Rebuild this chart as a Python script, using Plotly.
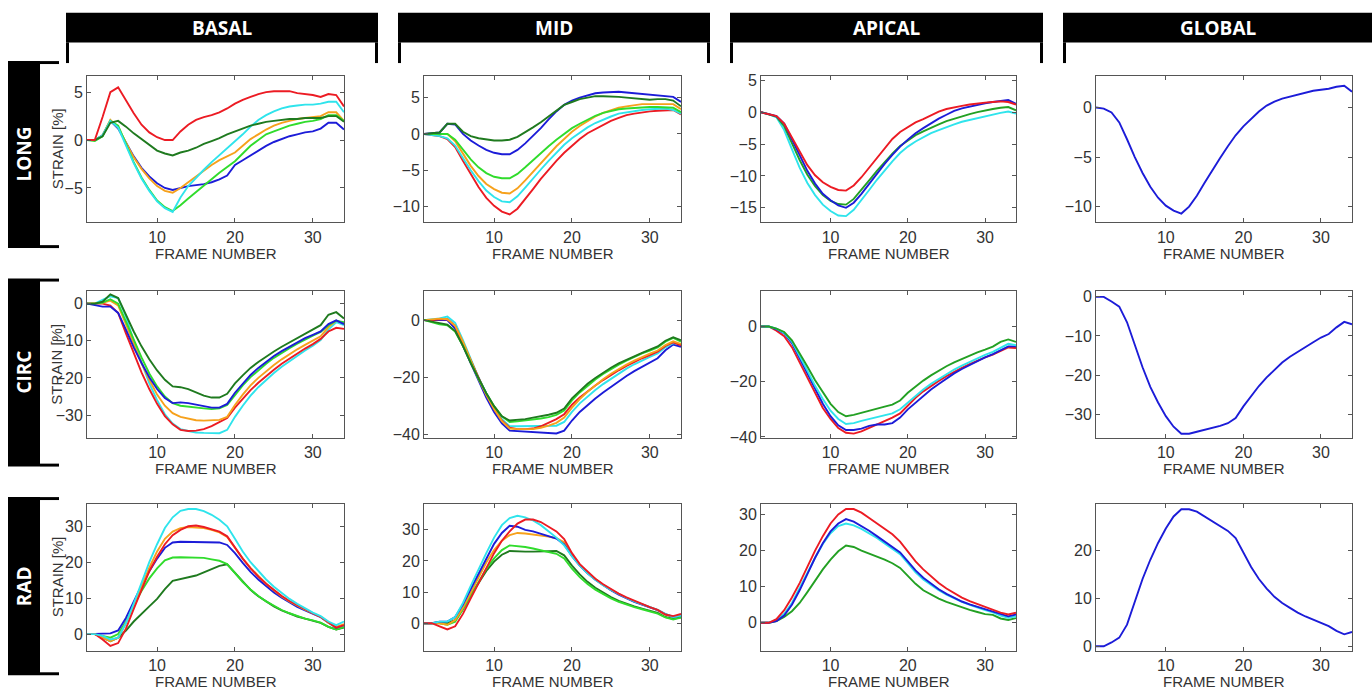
import plotly.graph_objects as go

W, H = 1372, 697
FRAMES = list(range(1, 35))

COLS = ["BASAL", "MID", "APICAL", "GLOBAL"]
ROWS = ["LONG", "CIRC", "RAD"]

# ---------------- LONG ----------------
LONG_BASAL_BLUE = [0,0,0.5,2.0,1.2,-0.3,-1.7,-2.9,-3.8,-4.5,-5.0,-5.2,-5.0,-4.8,-4.7,-4.6,-4.4,-4.1,-3.7,-2.6,-2.1,-1.6,-1.1,-0.6,-0.2,0.1,0.4,0.6,0.8,0.9,1.2,1.8,1.8,1.1]
LONG_BASAL_ORANGE = [0,0,0.5,2.1,1.3,-0.3,-1.8,-3.0,-4.0,-4.8,-5.3,-5.5,-5.0,-4.4,-3.8,-3.2,-2.6,-2.1,-1.7,-1.3,-0.6,0.1,0.6,1.1,1.5,1.8,2.0,2.2,2.3,2.4,2.5,2.9,2.9,2.0]
LONG_BASAL_GREEN = [0,-0.1,0.4,2.0,1.5,-0.5,-2.3,-3.9,-5.2,-6.3,-7.0,-7.4,-6.8,-6.1,-5.4,-4.7,-4.0,-3.4,-2.8,-2.2,-1.4,-0.6,0.0,0.6,0.9,1.2,1.5,1.7,1.9,2.0,2.2,2.6,2.6,2.0]
LONG_BASAL_CYAN = [0,0,0.5,2.0,1.3,-0.6,-2.4,-4.0,-5.3,-6.4,-7.1,-7.5,-6.0,-4.8,-3.9,-3.1,-2.3,-1.6,-0.9,-0.2,0.6,1.4,2.1,2.6,3.0,3.3,3.5,3.6,3.7,3.7,3.8,4.0,4.0,2.9]
LONG_BASAL_DKGREEN = [0,0,0.4,1.8,2.0,1.4,0.7,0.1,-0.5,-1.1,-1.4,-1.6,-1.3,-1.1,-0.8,-0.4,-0.1,0.2,0.6,0.9,1.2,1.5,1.7,1.9,2.0,2.1,2.2,2.2,2.3,2.3,2.3,2.5,2.5,1.9]
LONG_BASAL_RED = [0,0,2.4,5.0,5.5,4.1,2.8,1.6,0.8,0.3,0.0,0.0,0.9,1.6,2.1,2.4,2.6,2.9,3.3,3.8,4.2,4.5,4.8,5.0,5.1,5.1,5.1,4.9,4.8,4.7,4.5,4.8,4.7,3.5]

LONG_MID_RED = [0,-0.2,-0.3,-0.7,-1.8,-3.7,-5.6,-7.3,-8.8,-9.9,-10.7,-11.1,-10.3,-9.0,-7.6,-6.2,-4.9,-3.7,-2.6,-1.6,-0.7,0.1,0.7,1.3,1.8,2.2,2.6,2.8,3.0,3.1,3.2,3.3,3.3,2.7]
LONG_MID_CYAN = [0,-0.1,-0.3,-0.6,-1.6,-3.3,-5.0,-6.5,-7.8,-8.7,-9.3,-9.4,-8.6,-7.4,-6.1,-4.9,-3.7,-2.6,-1.5,-0.6,0.2,0.9,1.5,2.0,2.4,2.8,3.0,3.2,3.3,3.4,3.5,3.5,3.3,2.8]
LONG_MID_ORANGE = [0,0,0,0,-1.0,-2.8,-4.4,-5.8,-6.9,-7.6,-8.1,-8.2,-7.5,-6.4,-5.2,-4.0,-2.8,-1.7,-0.7,0.3,1.1,1.8,2.4,2.9,3.3,3.6,3.8,4.0,4.1,4.1,4.1,4.2,4.1,3.4]
LONG_MID_GREEN = [0,0,0,0,-0.8,-2.2,-3.5,-4.6,-5.4,-5.9,-6.1,-6.1,-5.5,-4.6,-3.6,-2.6,-1.7,-0.8,0.0,0.8,1.4,2.0,2.5,2.9,3.2,3.4,3.5,3.6,3.7,3.7,3.7,3.7,3.6,3.0]
LONG_MID_BLUE = [0,0.1,0.2,1.4,1.3,0.0,-0.9,-1.6,-2.2,-2.6,-2.8,-2.8,-2.2,-1.3,-0.3,0.8,2.0,3.1,4.0,4.6,5.0,5.3,5.6,5.7,5.8,5.8,5.7,5.6,5.5,5.4,5.3,5.3,5.1,4.4]
LONG_MID_DKGREEN = [0,0.1,0.2,1.4,1.4,0.3,-0.3,-0.6,-0.8,-0.9,-0.9,-0.8,-0.4,0.2,0.9,1.6,2.4,3.2,4.0,4.4,4.8,5.0,5.2,5.2,5.2,5.1,5.0,4.9,4.8,4.7,4.8,4.8,4.6,3.8]

LONG_APICAL_CYAN = [0,-0.3,-0.8,-2.8,-5.8,-8.7,-11.1,-13.0,-14.5,-15.5,-16.2,-16.3,-15.3,-13.8,-12.2,-10.6,-9.1,-7.7,-6.4,-5.4,-4.6,-3.9,-3.3,-2.8,-2.3,-1.9,-1.5,-1.2,-0.9,-0.6,-0.4,-0.1,0.1,-0.2]
LONG_APICAL_GREEN = [0,-0.3,-0.7,-2.2,-4.8,-7.5,-9.8,-11.6,-13.0,-13.9,-14.4,-14.5,-13.6,-12.2,-10.7,-9.2,-7.8,-6.5,-5.3,-4.4,-3.6,-3.0,-2.4,-1.9,-1.4,-1.0,-0.6,-0.3,0.0,0.3,0.5,0.7,0.8,0.3]
LONG_APICAL_BLUE = [0,-0.3,-0.6,-1.8,-4.2,-6.8,-9.2,-11.2,-12.8,-13.8,-14.6,-15.0,-14.2,-12.8,-11.2,-9.6,-8.1,-6.7,-5.4,-4.3,-3.3,-2.5,-1.7,-1.0,-0.4,0.2,0.6,0.9,1.2,1.4,1.6,1.8,1.9,1.3]
LONG_APICAL_RED = [0,-0.3,-0.6,-1.8,-4.0,-6.3,-8.3,-9.9,-11.0,-11.7,-12.2,-12.3,-11.5,-10.2,-8.7,-7.1,-5.6,-4.2,-3.1,-2.3,-1.6,-1.1,-0.5,0.1,0.5,0.8,1.0,1.2,1.4,1.5,1.6,1.7,1.6,1.2]

LONG_GLOBAL = [0,-0.1,-0.5,-1.5,-3.2,-5.0,-6.6,-8.0,-9.1,-9.9,-10.4,-10.7,-10.0,-8.9,-7.6,-6.3,-5.1,-3.9,-2.8,-1.9,-1.1,-0.4,0.2,0.6,0.9,1.1,1.3,1.5,1.7,1.8,1.9,2.1,2.2,1.6]

# ---------------- CIRC ----------------
CIRC_BASAL_CYAN = [0,0,1.0,2.0,1.5,-3.5,-10.0,-16.0,-21.5,-26.0,-29.8,-32.3,-33.8,-34.3,-34.7,-34.8,-34.9,-34.9,-34.0,-30.5,-27.5,-24.8,-22.5,-20.5,-18.7,-17.0,-15.5,-14.0,-12.6,-11.3,-9.8,-7.0,-5.0,-5.8]
CIRC_BASAL_RED = [0,0,0,-0.5,-2.5,-8.0,-13.5,-18.5,-23.0,-27.0,-30.3,-32.5,-34.0,-34.3,-34.2,-33.8,-33.0,-32.0,-30.8,-28.0,-25.5,-23.3,-21.3,-19.5,-17.8,-16.2,-14.8,-13.4,-12.1,-10.9,-9.5,-7.5,-6.5,-6.8]
CIRC_BASAL_ORANGE = [0,0,0.2,0.8,-0.5,-5.5,-11.0,-16.0,-20.5,-24.5,-27.5,-29.5,-30.5,-31.0,-31.4,-31.5,-31.5,-31.3,-30.5,-27.3,-24.5,-22.0,-20.0,-18.2,-16.5,-15.0,-13.6,-12.3,-11.1,-10.0,-8.8,-6.3,-4.6,-5.3]
CIRC_BASAL_GREEN = [0,0,0.3,1.2,0.0,-5.0,-10.0,-14.5,-18.8,-22.3,-25.0,-26.8,-27.5,-27.8,-28.0,-28.2,-28.4,-28.2,-27.3,-24.5,-22.0,-19.8,-17.9,-16.2,-14.6,-13.2,-12.0,-10.8,-9.6,-8.6,-7.6,-5.8,-4.6,-5.0]
CIRC_BASAL_BLUE = [0,-0.3,-0.8,-0.8,-2.5,-7.0,-11.8,-16.0,-19.8,-23.0,-25.4,-26.8,-26.6,-26.8,-27.2,-27.6,-28.0,-28.0,-27.0,-24.0,-21.5,-19.2,-17.3,-15.6,-14.1,-12.8,-11.6,-10.4,-9.3,-8.4,-7.5,-5.5,-4.5,-5.5]
CIRC_BASAL_DKGREEN = [0,0,0.5,2.5,1.5,-3.0,-7.5,-11.5,-15.0,-18.0,-20.5,-22.3,-22.5,-23.0,-24.0,-24.8,-25.3,-25.3,-24.3,-21.5,-19.3,-17.3,-15.7,-14.2,-12.9,-11.6,-10.4,-9.2,-8.0,-7.0,-5.8,-3.0,-2.3,-4.0]

CIRC_MID_BLUE = [0,0,0,0,-3.0,-9.0,-15.5,-21.5,-27.0,-32.0,-36.0,-38.5,-38.7,-38.8,-39.0,-39.2,-39.5,-39.5,-38.5,-35.0,-32.0,-29.5,-27.3,-25.2,-23.2,-21.3,-19.5,-17.8,-16.2,-14.8,-13.3,-10.5,-8.5,-9.3]
CIRC_MID_RED = [0,0,0.3,0.3,-2.0,-8.0,-14.5,-20.5,-26.0,-31.0,-35.0,-37.5,-38.0,-38.0,-37.8,-37.0,-35.8,-34.5,-32.8,-29.5,-27.0,-24.8,-22.8,-20.9,-19.1,-17.5,-16.0,-14.6,-13.3,-12.2,-11.0,-9.0,-7.8,-8.8]
CIRC_MID_ORANGE = [0,0.3,0.5,0.3,-2.0,-7.5,-14.0,-20.5,-26.0,-31.0,-35.2,-37.8,-38.0,-38.0,-38.0,-37.5,-36.8,-35.8,-34.0,-30.5,-27.5,-25.0,-22.7,-20.6,-18.7,-17.0,-15.5,-14.1,-12.8,-11.7,-10.6,-8.7,-7.4,-8.3]
CIRC_MID_CYAN = [0,0.3,0.6,1.2,-1.0,-7.0,-13.5,-20.0,-25.5,-30.5,-34.5,-37.0,-37.0,-37.0,-37.0,-37.0,-37.0,-36.8,-35.5,-32.0,-29.0,-26.6,-24.4,-22.3,-20.4,-18.6,-16.9,-15.4,-14.0,-12.8,-11.6,-9.5,-8.0,-8.5]
CIRC_MID_GREEN = [0,-0.8,-1.5,-1.8,-4.0,-9.0,-15.0,-20.5,-25.5,-30.0,-33.5,-35.5,-35.3,-35.0,-34.7,-34.3,-33.8,-33.0,-31.5,-28.0,-25.2,-22.8,-20.7,-18.8,-17.0,-15.5,-14.1,-12.8,-11.6,-10.6,-9.5,-7.5,-6.2,-7.5]
CIRC_MID_DKGREEN = [0,-0.5,-1.2,-1.6,-3.8,-9.0,-15.0,-20.5,-25.5,-30.0,-33.5,-35.0,-34.8,-34.5,-34.0,-33.6,-33.0,-32.3,-30.8,-27.3,-24.6,-22.2,-20.2,-18.3,-16.6,-15.1,-13.8,-12.5,-11.4,-10.3,-9.2,-7.2,-6.0,-7.0]

CIRC_APICAL_RED = [0,0,-1.5,-3.5,-7.5,-13.0,-19.0,-24.5,-29.5,-33.5,-36.8,-38.5,-38.8,-38.0,-36.8,-35.5,-34.2,-33.0,-31.5,-28.5,-25.8,-23.5,-21.5,-19.7,-18.0,-16.4,-15.0,-13.6,-12.3,-11.2,-10.2,-8.8,-7.6,-7.8]
CIRC_APICAL_BLUE = [0,0,-1.0,-2.5,-6.0,-11.5,-17.5,-23.0,-28.0,-32.5,-35.8,-37.5,-37.5,-37.0,-36.0,-35.5,-35.5,-35.0,-33.0,-30.0,-27.5,-25.0,-22.8,-20.8,-18.8,-17.0,-15.4,-13.9,-12.5,-11.2,-10.0,-8.5,-7.2,-7.2]
CIRC_APICAL_CYAN = [0,0,-0.8,-2.3,-5.5,-10.5,-16.0,-21.5,-26.3,-30.5,-33.5,-35.3,-35.0,-34.2,-33.5,-33.0,-32.3,-31.5,-30.0,-27.5,-25.0,-22.8,-20.8,-19.0,-17.2,-15.6,-14.2,-12.8,-11.5,-10.3,-9.2,-7.6,-6.3,-6.8]
CIRC_APICAL_GREEN = [0,0,-0.8,-2.0,-5.0,-9.5,-14.5,-19.5,-24.0,-28.0,-31.0,-32.5,-32.0,-31.2,-30.5,-29.8,-29.0,-28.3,-26.8,-24.0,-21.7,-19.6,-17.7,-16.0,-14.4,-13.0,-11.7,-10.5,-9.4,-8.4,-7.3,-5.6,-4.7,-5.6]

CIRC_GLOBAL = [0,0,-1.2,-2.5,-6.5,-12.5,-18.0,-23.0,-27.0,-30.5,-33.2,-35.0,-35.0,-34.5,-34.0,-33.5,-33.0,-32.3,-31.0,-28.0,-25.3,-22.8,-20.6,-18.6,-16.8,-15.3,-14.0,-12.8,-11.6,-10.4,-9.5,-7.8,-6.4,-7.0]

# ---------------- RAD ----------------
RAD_BASAL_DKGREEN = [0,0,-1.0,-2.0,-1.0,1.0,3.5,5.5,7.7,9.8,12.5,14.8,15.3,15.6,16.3,17.2,18.2,19.0,19.4,17.0,14.5,12.3,10.5,9.0,7.7,6.6,5.7,4.9,4.3,3.7,3.1,2.0,1.3,1.8]
RAD_BASAL_GREEN = [0,0,-0.5,-1.0,0.0,3.5,8.0,12.0,15.5,18.3,20.5,21.3,21.4,21.4,21.4,21.2,20.8,20.4,19.5,17.0,14.5,12.4,10.6,9.1,7.8,6.7,5.8,5.0,4.3,3.8,3.2,2.0,1.3,2.0]
RAD_BASAL_BLUE = [0,0,0,0.2,1.0,4.5,9.0,13.5,17.5,21.0,24.0,25.5,25.7,25.7,25.7,25.7,25.7,25.5,24.8,22.5,19.8,17.3,15.2,13.3,11.6,10.1,8.8,7.6,6.6,5.6,4.7,3.2,1.8,2.5]
RAD_BASAL_ORANGE = [0,0,-1.0,-2.0,-1.0,3.0,8.0,13.5,18.5,23.0,26.5,28.5,29.5,29.8,29.7,29.5,29.0,28.3,27.0,24.0,21.0,18.4,16.1,14.0,12.2,10.5,9.1,7.9,6.8,5.8,4.8,3.2,2.0,2.8]
RAD_BASAL_RED = [0,0,-1.5,-3.3,-2.5,1.5,7.0,12.5,17.5,21.5,25.0,27.5,29.0,30.0,30.2,29.8,29.2,28.5,27.2,24.0,21.0,18.3,16.0,14.0,12.2,10.6,9.2,8.0,6.9,5.8,4.8,3.2,1.8,2.5]
RAD_BASAL_CYAN = [0,0,-0.5,-1.5,-1.0,3.0,8.5,14.5,20.0,25.0,29.5,32.5,34.3,34.8,34.8,34.2,33.2,31.8,30.0,26.5,23.0,20.0,17.5,15.2,13.2,11.4,9.8,8.4,7.1,6.0,5.0,3.5,2.5,3.5]

RAD_MID_DKGREEN = [0,0,0.3,0,1.0,4.5,9.0,13.0,16.8,19.8,22.0,23.2,23.0,23.0,23.0,23.0,23.2,23.2,21.8,18.5,15.7,13.3,11.4,9.8,8.4,7.2,6.2,5.4,4.7,4.0,3.3,2.0,1.4,1.9]
RAD_MID_GREEN = [0,0,0,-0.5,0.5,4.5,9.0,13.5,17.5,20.8,23.5,25.0,24.8,24.5,24.0,23.5,23.0,22.3,20.8,17.5,14.8,12.6,10.8,9.3,8.0,6.9,6.0,5.2,4.5,3.8,3.1,1.9,1.2,1.8]
RAD_MID_ORANGE = [0,0,0,-0.5,1.0,5.0,10.0,15.0,19.5,23.5,26.5,28.3,29.0,28.8,28.5,28.2,27.8,27.3,26.0,22.0,18.8,16.2,14.1,12.3,10.7,9.3,8.1,7.0,6.0,5.1,4.2,2.8,2.0,2.6]
RAD_MID_BLUE = [0,0,0.5,0.5,2.0,6.0,11.0,16.0,21.0,25.5,29.0,31.3,31.0,30.0,29.5,28.8,28.0,27.2,25.3,21.5,18.5,16.0,14.0,12.2,10.6,9.2,8.0,6.9,6.0,5.1,4.2,2.9,2.0,2.5]
RAD_MID_CYAN = [0,0,0.5,0.5,2.0,6.5,12.0,17.5,22.5,27.5,31.5,33.8,34.5,34.0,33.0,31.5,29.5,27.5,25.0,21.5,18.5,16.0,14.0,12.2,10.7,9.3,8.1,7.0,6.1,5.2,4.3,3.0,2.0,2.5]
RAD_MID_RED = [0,0,-1.0,-2.0,-1.0,3.0,8.0,13.0,18.0,22.5,26.5,29.5,32.0,33.3,33.3,32.5,31.0,29.5,27.0,22.5,19.0,16.5,14.3,12.5,10.9,9.5,8.3,7.2,6.2,5.2,4.3,2.8,2.3,3.0]

RAD_APICAL_GREEN = [0,0,0.5,1.6,3.2,5.5,8.5,11.7,14.8,17.5,19.8,21.4,21.0,20.0,19.2,18.3,17.5,16.5,15.2,13.0,10.8,9.0,7.8,6.7,5.8,5.0,4.3,3.6,3.0,2.4,2.2,1.2,0.8,1.3]
RAD_APICAL_CYAN = [0,0,0.8,2.5,5.5,9.5,13.8,18.0,21.8,24.8,26.8,27.5,27.0,26.0,24.8,23.5,22.0,20.5,19.0,16.5,14.0,12.0,10.4,9.0,7.8,6.7,5.8,5.0,4.2,3.5,2.9,2.0,1.4,1.8]
RAD_APICAL_BLUE = [0,0,0.5,2.0,5.0,9.0,13.5,18.0,22.0,25.3,27.5,28.7,28.0,26.8,25.5,24.0,22.5,21.0,19.5,17.0,14.5,12.5,10.8,9.3,8.0,6.9,5.9,5.1,4.4,3.7,3.1,2.3,1.8,2.3]
RAD_APICAL_RED = [0,0,1.0,3.5,7.0,11.0,15.5,20.0,24.0,27.5,30.0,31.5,31.5,30.5,29.0,27.5,26.0,24.5,22.5,19.8,17.0,14.8,12.8,11.0,9.5,8.2,7.0,6.0,5.2,4.4,3.7,2.8,2.3,2.8]

RAD_GLOBAL = [0,0,0.8,1.8,4.5,9.5,14.0,18.0,21.5,24.5,27.0,28.5,28.5,28.0,27.0,26.0,25.0,24.0,22.5,19.5,16.5,14.0,12.0,10.3,9.0,8.0,7.0,6.2,5.5,4.8,4.2,3.2,2.5,3.0]

# colours
RED = "#ec1b23"
DKGREEN = "#1f7a1f"
BLUE = "#1c1cd8"
ORANGE = "#f6a11c"
GREEN = "#30dc2c"
CYAN = "#2fe4ec"
APGREEN = "#23a023"

PANEL_LINES = {
    ("LONG", "BASAL"): [(LONG_BASAL_BLUE, BLUE), (LONG_BASAL_ORANGE, ORANGE), (LONG_BASAL_GREEN, GREEN),
                        (LONG_BASAL_CYAN, CYAN), (LONG_BASAL_DKGREEN, DKGREEN), (LONG_BASAL_RED, RED)],
    ("LONG", "MID"): [(LONG_MID_RED, RED), (LONG_MID_CYAN, CYAN), (LONG_MID_ORANGE, ORANGE),
                      (LONG_MID_GREEN, GREEN), (LONG_MID_BLUE, BLUE), (LONG_MID_DKGREEN, DKGREEN)],
    ("LONG", "APICAL"): [(LONG_APICAL_CYAN, CYAN), (LONG_APICAL_GREEN, APGREEN), (LONG_APICAL_BLUE, BLUE),
                         (LONG_APICAL_RED, RED)],
    ("LONG", "GLOBAL"): [(LONG_GLOBAL, BLUE)],
    ("CIRC", "BASAL"): [(CIRC_BASAL_CYAN, CYAN), (CIRC_BASAL_RED, RED), (CIRC_BASAL_ORANGE, ORANGE),
                        (CIRC_BASAL_GREEN, GREEN), (CIRC_BASAL_BLUE, BLUE), (CIRC_BASAL_DKGREEN, DKGREEN)],
    ("CIRC", "MID"): [(CIRC_MID_BLUE, BLUE), (CIRC_MID_CYAN, CYAN), (CIRC_MID_RED, RED),
                      (CIRC_MID_ORANGE, ORANGE), (CIRC_MID_GREEN, GREEN), (CIRC_MID_DKGREEN, DKGREEN)],
    ("CIRC", "APICAL"): [(CIRC_APICAL_RED, RED), (CIRC_APICAL_BLUE, BLUE), (CIRC_APICAL_CYAN, CYAN),
                         (CIRC_APICAL_GREEN, APGREEN)],
    ("CIRC", "GLOBAL"): [(CIRC_GLOBAL, BLUE)],
    ("RAD", "BASAL"): [(RAD_BASAL_DKGREEN, DKGREEN), (RAD_BASAL_GREEN, GREEN), (RAD_BASAL_BLUE, BLUE),
                       (RAD_BASAL_ORANGE, ORANGE), (RAD_BASAL_RED, RED), (RAD_BASAL_CYAN, CYAN)],
    ("RAD", "MID"): [(RAD_MID_DKGREEN, DKGREEN), (RAD_MID_GREEN, GREEN), (RAD_MID_ORANGE, ORANGE),
                     (RAD_MID_BLUE, BLUE), (RAD_MID_CYAN, CYAN), (RAD_MID_RED, RED)],
    ("RAD", "APICAL"): [(RAD_APICAL_GREEN, APGREEN), (RAD_APICAL_CYAN, CYAN), (RAD_APICAL_BLUE, BLUE),
                        (RAD_APICAL_RED, RED)],
    ("RAD", "GLOBAL"): [(RAD_GLOBAL, BLUE)],
}

Y_RANGES = {
    ("LONG", "BASAL"): [-8.6, 6.7], ("LONG", "MID"): [-12.2, 8.0],
    ("LONG", "APICAL"): [-17.3, 5.7], ("LONG", "GLOBAL"): [-11.6, 3.2],
    ("CIRC", "BASAL"): [-36.2, 3.3], ("CIRC", "MID"): [-41.1, 10.0],
    ("CIRC", "APICAL"): [-40.4, 12.7], ("CIRC", "GLOBAL"): [-36.1, 1.4],
    ("RAD", "BASAL"): [-4.6, 36.2], ("RAD", "MID"): [-8.8, 38.3],
    ("RAD", "APICAL"): [-7.7, 32.9], ("RAD", "GLOBAL"): [-0.9, 29.6],
}
Y_TICKS = {
    ("LONG", "BASAL"): [-5, 0, 5], ("LONG", "MID"): [-10, -5, 0, 5],
    ("LONG", "APICAL"): [-15, -10, -5, 0, 5], ("LONG", "GLOBAL"): [-10, -5, 0],
    ("CIRC", "BASAL"): [-30, -20, -10, 0], ("CIRC", "MID"): [-40, -20, 0],
    ("CIRC", "APICAL"): [-40, -20, 0], ("CIRC", "GLOBAL"): [-30, -20, -10, 0],
    ("RAD", "BASAL"): [0, 10, 20, 30], ("RAD", "MID"): [0, 10, 20, 30],
    ("RAD", "APICAL"): [0, 10, 20, 30], ("RAD", "GLOBAL"): [0, 10, 20],
}
X_TICKS = [10, 20, 30]

# pixel layout of plot boxes
COL_PX = [(87, 344), (424, 681), (761, 1016), (1096, 1352)]
ROW_PX = [(73, 222), (292, 441), (508, 657)]
HEADER_PX = [(66, 378), (398, 710), (730, 1043), (1063, 1380)]
ROWLAB_PX = [(58, 248), (279, 470), (501, 682)]


def fx(x):
    return x / W


def fy(y):
    return 1 - y / H


fig = go.Figure()
layout = dict(width=W, height=H, autosize=False, margin=dict(l=0, r=0, t=0, b=0),
              paper_bgcolor="white", plot_bgcolor="white", showlegend=False)

TICKFONT = dict(family="Liberation Sans, Arial, sans-serif", size=16, color="#333333")
annotations = []
shapes = []

for r, row in enumerate(ROWS):
    for c, col in enumerate(COLS):
        k = r * 4 + c + 1
        sfx = "" if k == 1 else str(k)
        for vals, color in PANEL_LINES[(row, col)]:
            fig.add_trace(go.Scatter(x=FRAMES, y=vals, mode="lines",
                                     line=dict(color=color, width=1.9),
                                     xaxis="x" + sfx, yaxis="y" + sfx,
                                     hoverinfo="skip", showlegend=False))
        x0, x1 = COL_PX[c]
        y0, y1 = ROW_PX[r]
        common = dict(showline=True, linecolor="#555555", linewidth=1, mirror="allticks",
                      ticks="inside", ticklen=4, tickcolor="#555555", showgrid=False,
                      zeroline=False, tickfont=TICKFONT, fixedrange=True)
        layout["xaxis" + sfx] = dict(domain=[fx(x0), fx(x1)], anchor="y" + sfx,
                                     range=[1, 34], tickvals=X_TICKS, **common)
        layout["yaxis" + sfx] = dict(domain=[fy(y1), fy(y0)], anchor="x" + sfx,
                                     range=Y_RANGES[(row, col)], tickvals=Y_TICKS[(row, col)],
                                     **common)
        annotations.append(dict(text="FRAME NUMBER", x=fx((x0 + x1) / 2), y=fy(y1 + 31),
                                xref="paper", yref="paper", showarrow=False,
                                xanchor="center", yanchor="middle",
                                font=dict(family="Liberation Sans, Arial, sans-serif",
                                          size=15, color="#333333")))
    # STRAIN label on first column
    y0, y1 = ROW_PX[r]
    annotations.append(dict(text="STRAIN [%]", x=fx(57), y=fy((y0 + y1) / 2),
                            xref="paper", yref="paper", showarrow=False, textangle=-90,
                            xanchor="center", yanchor="middle",
                            font=dict(family="Liberation Sans, Arial, sans-serif",
                                      size=15, color="#333333")))

HEADFONT = dict(family="Open Sans, Noto Sans, sans-serif", size=19, color="white")

for (hx0, hx1), name in zip(HEADER_PX, COLS):
    shapes.append(dict(type="rect", xref="paper", yref="paper", x0=fx(hx0), x1=fx(hx1),
                       y0=fy(39), y1=fy(9), fillcolor="black", line=dict(width=0), layer="above"))
    shapes.append(dict(type="rect", xref="paper", yref="paper", x0=fx(hx0), x1=fx(hx0 + 3),
                       y0=fy(60), y1=fy(39), fillcolor="black", line=dict(width=0)))
    if hx1 <= W:
        shapes.append(dict(type="rect", xref="paper", yref="paper", x0=fx(hx1 - 3), x1=fx(hx1),
                           y0=fy(60), y1=fy(39), fillcolor="black", line=dict(width=0)))
    cx = (hx0 + min(hx1, W)) / 2
    annotations.append(dict(text="<b>%s</b>" % name, x=fx(cx), y=fy(24), xref="paper",
                            yref="paper", showarrow=False, xanchor="center", yanchor="middle",
                            font=HEADFONT))

for (ry0, ry1), name in zip(ROWLAB_PX, ROWS):
    shapes.append(dict(type="rect", xref="paper", yref="paper", x0=fx(8), x1=fx(40),
                       y0=fy(ry1), y1=fy(ry0), fillcolor="black", line=dict(width=0)))
    shapes.append(dict(type="rect", xref="paper", yref="paper", x0=fx(40), x1=fx(59),
                       y0=fy(ry0 + 3), y1=fy(ry0), fillcolor="black", line=dict(width=0)))
    shapes.append(dict(type="rect", xref="paper", yref="paper", x0=fx(40), x1=fx(59),
                       y0=fy(ry1), y1=fy(ry1 - 3), fillcolor="black", line=dict(width=0)))
    annotations.append(dict(text="<b>%s</b>" % name, x=fx(24), y=fy((ry0 + ry1) / 2),
                            xref="paper", yref="paper", showarrow=False, textangle=-90,
                            xanchor="center", yanchor="middle", font=HEADFONT))

layout["annotations"] = annotations
layout["shapes"] = shapes
fig.update_layout(**layout)
fig.write_html("out.html", config={"displayModeBar": False},
               post_script="document.body.style.margin='0';document.body.style.overflow='hidden';")
